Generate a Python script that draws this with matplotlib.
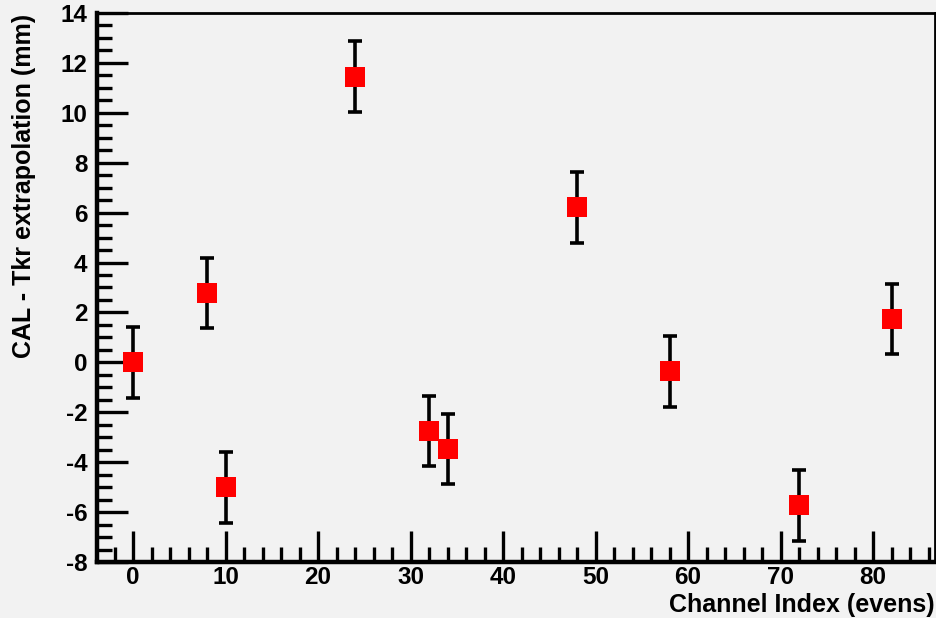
import matplotlib
matplotlib.use("Agg")
import matplotlib.pyplot as plt
from matplotlib.ticker import MultipleLocator

# channel index (evens) and CAL - Tkr offsets (mm)
channels = [0, 8, 10, 24, 32, 34, 48, 58, 72, 82]
offsets = [0.0, 2.78, -5.0, 11.45, -2.75, -3.47, 6.22, -0.35, -5.72, 1.74]
errors = [1.42, 1.42, 1.42, 1.42, 1.42, 1.42, 1.42, 1.42, 1.42, 1.42]

plt.rcParams["font.family"] = ["Liberation Sans", "DejaVu Sans"]
plt.rcParams["axes.unicode_minus"] = False
bg = "#f2f2f2"
W, H = 937, 618

fig = plt.figure(figsize=(W / 100, H / 100), dpi=100, facecolor=bg)
ax = fig.add_axes([97 / W, 1 - 562 / H, (935 - 97) / W, (562 - 13) / H])
ax.set_facecolor(bg)

ax.errorbar(channels, offsets, yerr=errors, fmt="none", ecolor="black",
            elinewidth=2.6, capsize=5, capthick=2.6, zorder=2)
ax.plot(channels, offsets, "s", color="#ff0000", markersize=15,
        markeredgewidth=0, zorder=3)

ax.set_xlim(-3.9, 86.7)
ax.set_ylim(-8, 14)
ax.xaxis.set_major_locator(MultipleLocator(10))
ax.xaxis.set_minor_locator(MultipleLocator(2))
ax.yaxis.set_major_locator(MultipleLocator(2))
ax.yaxis.set_minor_locator(MultipleLocator(0.5))
ax.tick_params(which="both", direction="in", width=2.4, top=False, right=False,
               labelsize=17.5, colors="black")
ax.tick_params(axis="x", which="major", length=22, pad=3)
ax.tick_params(axis="y", which="major", length=22, pad=7)
ax.tick_params(which="minor", length=11)
for lab in ax.get_xticklabels() + ax.get_yticklabels():
    lab.set_fontweight("bold")

for side in ("left", "bottom"):
    ax.spines[side].set_linewidth(3.2)
for side in ("top", "right"):
    ax.spines[side].set_linewidth(2.0)

# axis titles placed ROOT-style (right / top aligned)
fig.text(935 / W, 1 - 612 / H, "Channel Index (evens)", fontsize=18,
         fontweight="bold", ha="right", va="baseline")
fig.text(24 / W, 1 - 14 / H, "CAL - Tkr extrapolation (mm)", fontsize=18,
         fontweight="bold", ha="center", va="top", rotation=90)

fig.savefig("out.png", dpi=100, facecolor=bg)
